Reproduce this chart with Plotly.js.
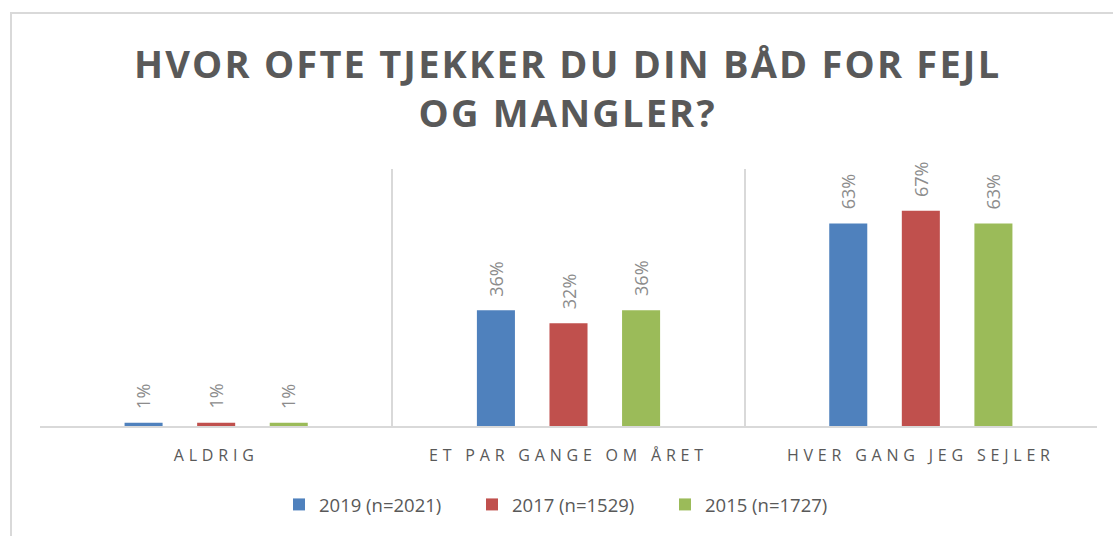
<!DOCTYPE html>
<html>
<head>
<meta charset="utf-8">
<script src="https://cdn.plot.ly/plotly-3.0.1.min.js"></script>
<style>
  html, body { margin: 0; padding: 0; background: #fff; overflow: hidden; }
  #wrap { position: relative; width: 1113px; height: 536px; }
  #chart { width: 1113px; height: 536px; }
  #frame { position: absolute; left: 10px; top: 12px; width: 1200px; height: 700px;
           border: 2px solid #d9d9d9; pointer-events: none; box-sizing: border-box; }
  .xtick text { letter-spacing: 4.8px; }
  .gtitle { letter-spacing: 2.2px; }
</style>
</head>
<body>
<div id="wrap">
  <div id="chart"></div>
  <div id="frame"></div>
</div>
<script>
const categories = ["ALDRIG", "ET PAR GANGE OM ÅRET", "HVER GANG JEG SEJLER"];
const seriesNames = ["2019 (n=2021)", "2017 (n=1529)", "2015 (n=1727)"];
const values2019 = [0.01, 0.36, 0.63];
const values2017 = [0.01, 0.32, 0.67];
const values2015 = [0.01, 0.36, 0.63];
const seriesValues = [values2019, values2017, values2015];
const colors = ["#4F81BD", "#C0504D", "#9BBB59"];

const W = 1113, H = 536;
const margin = {l: 40, r: 16, t: 169, b: 110, pad: 0};
const bargap = 0.382;
const bargroupgap = 0.476;

const traces = seriesValues.map((vals, i) => ({
  type: 'bar',
  name: seriesNames[i],
  x: categories,
  y: vals,
  marker: {color: colors[i]},
  hoverinfo: 'none'
}));

// data labels as rotated annotations above each bar
const plotW = W - margin.l - margin.r;
const catW = plotW / categories.length;
const slot = catW * (1 - bargap) / seriesValues.length;
const annotations = [];
seriesValues.forEach((vals, i) => {
  const off = (i - (seriesValues.length - 1) / 2) * slot;
  vals.forEach((v, j) => {
    annotations.push({
      x: categories[j], y: v, xref: 'x', yref: 'y',
      text: Math.round(v * 100) + '%',
      showarrow: false, textangle: -90,
      xanchor: 'center', yanchor: 'bottom',
      xshift: off, yshift: 12,
      font: {family: 'Open Sans, sans-serif', size: 18, color: '#8c8c8c'}
    });
  });
});

const layout = {
  width: W, height: H,
  margin: margin,
  paper_bgcolor: '#ffffff',
  plot_bgcolor: '#ffffff',
  font: {family: 'Open Sans, sans-serif', color: '#595959'},
  title: {
    text: 'HVOR OFTE TJEKKER DU DIN BÅD FOR FEJL<br>OG MANGLER?',
    font: {family: 'Open Sans, sans-serif', size: 38, color: '#595959', weight: 'bold'},
    x: 0.51, xanchor: 'center', xref: 'container',
    y: 1 - 78 / H, yanchor: 'top', yref: 'container'
  },
  barmode: 'group',
  bargap: bargap,
  bargroupgap: bargroupgap,
  xaxis: {
    type: 'category',
    tickson: 'boundaries',
    showgrid: true, gridcolor: '#d9d9d9', gridwidth: 2,
    showline: true, linecolor: '#d9d9d9', linewidth: 2,
    ticks: '',
    ticklabelstandoff: 14,
    tickfont: {family: 'Open Sans, sans-serif', size: 16, color: '#595959'},
    fixedrange: true
  },
  yaxis: {
    range: [0, 0.8],
    showgrid: false, zeroline: false, showline: false,
    showticklabels: false, ticks: '',
    fixedrange: true
  },
  showlegend: true,
  legend: {
    orientation: 'h',
    x: 0.5, xanchor: 'center',
    y: -0.307, yanchor: 'middle',
    font: {family: 'Open Sans, sans-serif', size: 18.5, color: '#595959'},
    entrywidth: 148, entrywidthmode: 'pixels',
    traceorder: 'normal'
  },
  annotations: annotations
};

Plotly.newPlot('chart', traces, layout, {displayModeBar: false, staticPlot: true});
</script>
</body>
</html>
